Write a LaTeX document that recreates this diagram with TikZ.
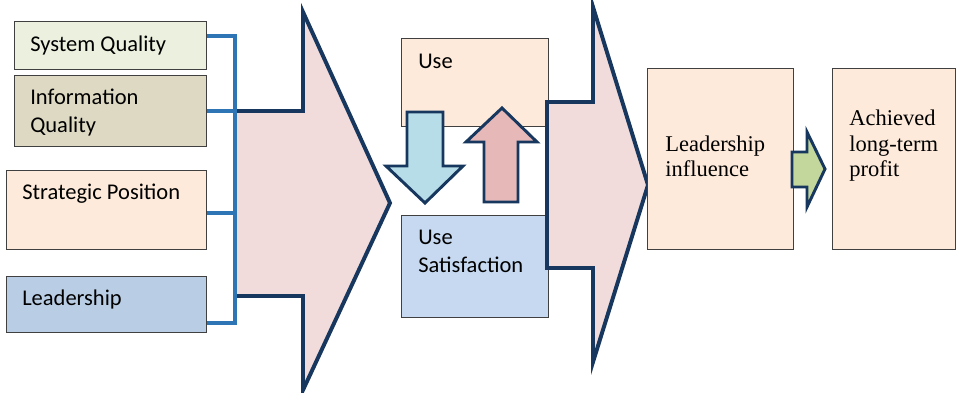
\documentclass[tikz,border=0pt]{standalone}
\usepackage{xcolor}
\usepackage{fontspec}
\setmainfont{Liberation Serif}
\newfontfamily\calfont{Carlito}
\usetikzlibrary{positioning}

\definecolor{sysgreen}{HTML}{EBF1DE}
\definecolor{infotan}{HTML}{DDD9C3}
\definecolor{peach}{HTML}{FDEADA}
\definecolor{leadblue}{HTML}{B9CDE5}
\definecolor{satblue}{HTML}{C6D9F1}
\definecolor{arrowpink}{HTML}{F2DCDB}
\definecolor{navy}{HTML}{17375E}
\definecolor{downblue}{HTML}{B7DEE8}
\definecolor{uppink}{HTML}{E6B9B8}
\definecolor{stepgreen}{HTML}{C3D69B}
\definecolor{busblue}{HTML}{2E75B6}

\begin{document}
\begin{tikzpicture}[x=0.025cm, y=-0.025cm,
    box/.style={draw=black!75, line width=0.8pt, anchor=north west, inner sep=0pt},
    cal/.style={font=\calfont\fontsize{16}{20}\selectfont, align=left, anchor=base west, inner sep=0pt},
    tms/.style={font=\fontsize{16}{18.2}\selectfont, align=left, anchor=base west, inner sep=0pt},
    bigarrow/.style={fill=arrowpink, draw=navy, line width=2.8pt, line join=miter},
    smallarrow/.style={draw=navy, line width=2.1pt, line join=miter},
    bus/.style={draw=busblue, line width=2.8pt}]

  \useasboundingbox (0,0) rectangle (956,393);

  % input boxes
  \node[box, fill=sysgreen, minimum width=4.8cm, minimum height=1.2cm] (sys) at (14,21) {};
  \node[box, fill=infotan, minimum width=4.8cm, minimum height=1.775cm] (info) at (14,75) {};
  \node[box, fill=peach, minimum width=5cm, minimum height=1.975cm] (strat) at (6,170) {};
  \node[box, fill=leadblue, minimum width=5cm, minimum height=1.4cm] (lead) at (6,276) {};
  % (base of a two-line label = its last line)
  \node[cal] (systxt) at (30,52) {System Quality};
  \node[cal] (infotxt) at (30,133) {Information\\Quality};
  \node[cal] (strattxt) at (22,200) {Strategic Position};
  \node[cal] (leadtxt) at (22,306) {Leadership};

  % first big arrow
  \draw[bigarrow] (235,111) -- (303,111) -- (303,12) -- (390,203) -- (303,390)
    -- (303,296) -- (235,296) -- cycle;

  % bus
  \coordinate (bustop) at (235,36);
  \coordinate (busbot) at (235,323);
  \coordinate (busmid) at (235,213);
  \draw[bus] (sys.east |- bustop) -- (bustop) -- (busbot) -- (lead.east |- busbot);
  \draw[bus] (info.east) -- (info.east -| bustop);
  \draw[bus] (strat.east |- busmid) -- (busmid);

  % use / satisfaction
  \node[box, fill=peach, minimum width=3.675cm, minimum height=2.2cm] (use) at (401,38) {};
  \node[box, fill=satblue, minimum width=3.675cm, minimum height=2.55cm] (usesat) at (401,215) {};
  \node[cal] (usetxt) at (418,69) {Use};
  \node[cal] (usesattxt) at (418,273) {Use\\Satisfaction};

  \draw[smallarrow, fill=downblue] (407,112) -- (443,112) -- (443,166) -- (463,166)
    -- (425,203) -- (386,166) -- (407,166) -- cycle;
  \draw[smallarrow, fill=uppink] (484,202) -- (518,202) -- (518,142) -- (537,142)
    -- (502,108) -- (466,142) -- (484,142) -- cycle;

  % second big arrow
  \draw[bigarrow] (547,102) -- (593,102) -- (593,7) -- (648,185) -- (593,362)
    -- (593,268) -- (547,268) -- cycle;

  % outcome boxes
  \node[box, fill=peach, minimum width=3.65cm, minimum height=4.525cm] (infl) at (647,68) {};
  \node[box, fill=peach, minimum width=3.075cm, minimum height=4.525cm] (profit) at (832,68) {};
  \node[tms] (infltxt) at (665,177) {Leadership\\influence};
  \node[tms] (profittxt) at (849,177) {Achieved\\long-term\\profit};

  \draw[smallarrow, fill=stepgreen] (792,152) -- (807,152) -- (807,132) -- (825,169)
    -- (807,207) -- (807,187) -- (792,187) -- cycle;
\end{tikzpicture}
\end{document}
